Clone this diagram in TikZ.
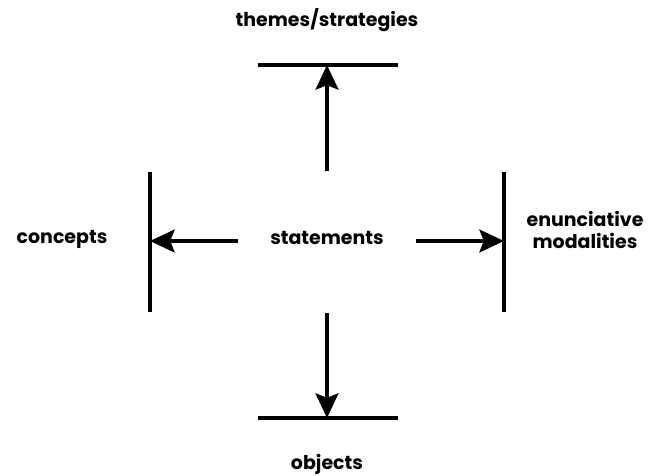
\documentclass[tikz,border=0pt]{standalone}
\usepackage{fontspec}
\setmainfont{Poppins}
\usetikzlibrary{arrows.meta}
\tikzset{
  lbl/.style={font=\fontsize{10.8}{12.5}\selectfont\bfseries, align=center, inner sep=0pt},
  bar/.style={black, line width=2pt},
  arr/.style={black, line width=2pt, -{Stealth[length=14pt, width=13pt, inset=2.5pt]}}
}

\begin{document}
\begin{tikzpicture}[x=0.02cm, y=-0.02cm]
\useasboundingbox (0,0) rectangle (656,476);
% labels
\node[lbl] (statements) at (327,238) {statements};
\node[lbl] (themes) at (327,20) {themes/strategies};
\node[lbl] (concepts) at (62,239) {concepts};
\node[lbl] (modal) at (585,230) {enunciative\\modalities};
\node[lbl] (objects) at (327,464) {objects};
% bars
\coordinate (ttop) at (327,65);
\coordinate (tleft) at (150,241);
\coordinate (tright) at (504,241);
\coordinate (tbot) at (327,418);
\draw[bar] (258,65)--(398,65);
\draw[bar] (150,172)--(150,312);
\draw[bar] (504,172)--(504,312);
\draw[bar] (258,418)--(398,418);
% arrows
\coordinate (sup) at (327,171);
\coordinate (sleft) at (238,241);
\coordinate (sright) at (416,241);
\coordinate (sdown) at (327,313);
\draw[arr] (sup)--(ttop);
\draw[arr] (sleft)--(tleft);
\draw[arr] (sright)--(tright);
\draw[arr] (sdown)--(tbot);
\end{tikzpicture}
\end{document}
